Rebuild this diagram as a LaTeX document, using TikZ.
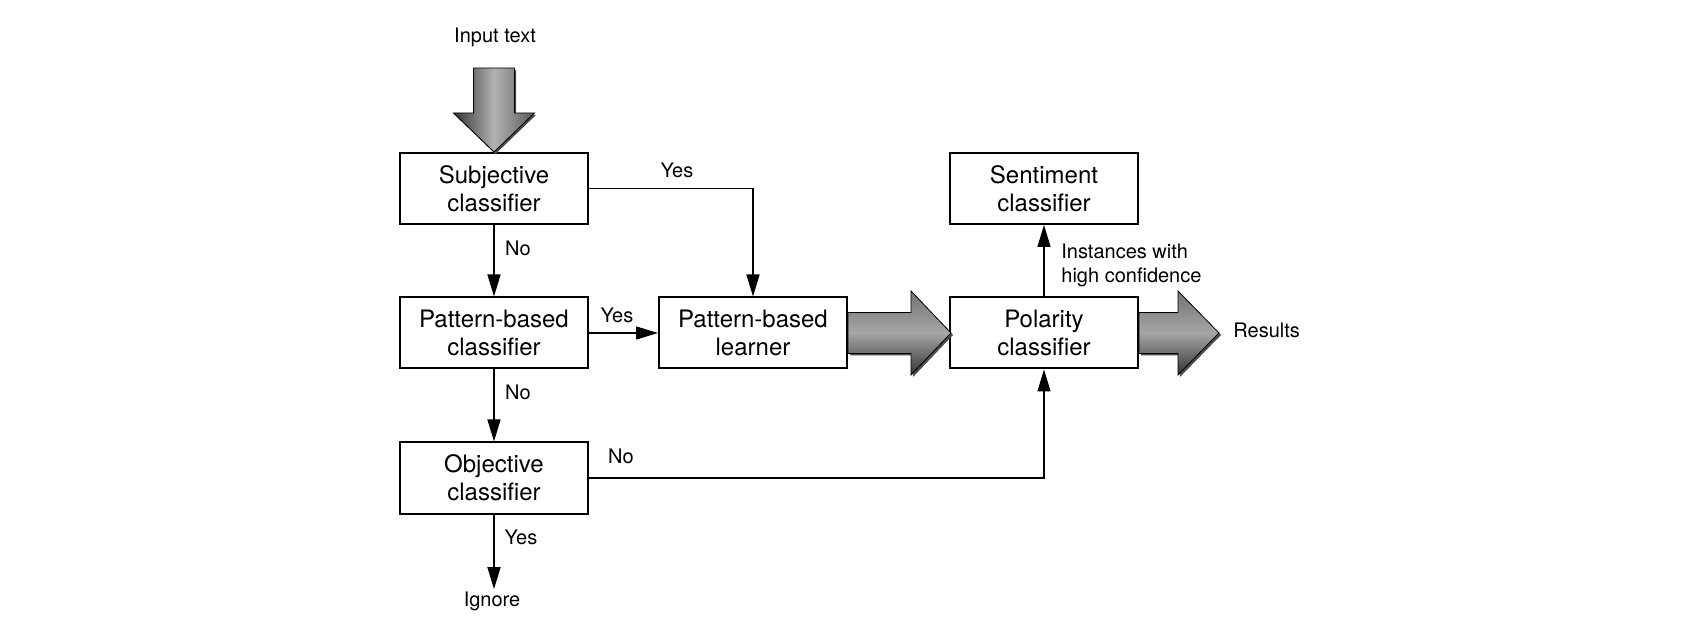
\documentclass[tikz,border=0pt]{standalone}
\usepackage{fontspec}
\setmainfont{TeX Gyre Heros}
\usetikzlibrary{arrows.meta,calc}

\begin{document}
\begin{tikzpicture}[x=0.5pt,y=0.5pt,
	box/.style={draw,line width=1pt,minimum width=94pt,minimum height=35.5pt,
		inner sep=0pt,align=center,font=\fontsize{12}{14}\selectfont},
	lbl/.style={inner sep=1pt,align=left,font=\fontsize{10}{12}\selectfont},
	flow/.style={line width=0.7pt,-{Triangle[length=11pt,width=6.5pt]}},
	fatbody/.style={draw=black,line width=0.4pt},
	fatshadow/.style={fill=black!70}]
	\useasboundingbox (0,0) rectangle (1699,-636);

	% boxes
	\node[box] (subj) at (494,-188.5) {Subjective\\classifier};
	\node[box] (patcls) at (494,-333) {Pattern-based\\classifier};
	\node[box] (objcls) at (494,-478) {Objective\\classifier};
	\node[box] (patlrn) at (753,-333) {Pattern-based\\learner};
	\node[box] (polar) at (1044,-333) {Polarity\\classifier};
	\node[box] (senti) at (1044,-188.5) {Sentiment\\classifier};

	% labels
	\node[lbl] (input) at (495,-37) {Input text};
	\node[lbl] (yes1) at (677,-170) {Yes};
	\node[lbl] (no1) at (518,-248) {No};
	\node[lbl] (yes2) at (617,-315) {Yes};
	\node[lbl] (no2) at (518,-392) {No};
	\node[lbl] (no3) at (621,-456) {No};
	\node[lbl] (yes3) at (521,-537) {Yes};
	\node[lbl] (ignore) at (492,-601) {Ignore};
	\node[lbl,anchor=west] (conf) at (1059,-265) {Instances with\\high confidence};
	\node[lbl,anchor=west] (results) at (1231,-330) {Results};

	% connectors
	\draw[flow] (subj.east) -| (patlrn.north);
	\draw[flow] (subj.south) -- (patcls.north);
	\draw[flow] (patcls.east) -- (patlrn.west);
	\draw[flow] (patcls.south) -- (objcls.north);
	\draw[flow] (objcls.east) -| (polar.south);
	\draw[flow] (objcls.south) -- (objcls.south |- ignore.north);
	\draw[flow] (polar.north) -- (senti.south);

	% fat arrows
	\begin{scope}[shift={(subj.north)}]
		\fill[fatshadow,shift={(1.5,-2)}] (-20.5,84) -- (20.5,84) -- (20.5,39) -- (40.5,39)
			-- (0,0) -- (-40.5,39) -- (-20.5,39) -- cycle;
		\shade[fatbody,left color=black!80,right color=black!65,middle color=black!30]
			(-20.5,84) -- (20.5,84) -- (20.5,39) -- (40.5,39)
			-- (0,0) -- (-40.5,39) -- (-20.5,39) -- cycle;
	\end{scope}
	\begin{scope}[shift={(patlrn.east)}]
		\fill[fatshadow,shift={(2,-2)}] (0,20.5) -- (63,20.5) -- (63,42) -- (103,0)
			-- (63,-42) -- (63,-20.5) -- (0,-20.5) -- cycle;
		\shade[fatbody,top color=black!55,bottom color=black!80,middle color=black!35]
			(0,20.5) -- (63,20.5) -- (63,42) -- (103,0)
			-- (63,-42) -- (63,-20.5) -- (0,-20.5) -- cycle;
	\end{scope}
	\begin{scope}[shift={(polar.east)}]
		\fill[fatshadow,shift={(2,-2)}] (0,20.5) -- (39,20.5) -- (39,42) -- (80,0)
			-- (39,-42) -- (39,-20.5) -- (0,-20.5) -- cycle;
		\shade[fatbody,top color=black!55,bottom color=black!80,middle color=black!35]
			(0,20.5) -- (39,20.5) -- (39,42) -- (80,0)
			-- (39,-42) -- (39,-20.5) -- (0,-20.5) -- cycle;
	\end{scope}
\end{tikzpicture}
\end{document}
